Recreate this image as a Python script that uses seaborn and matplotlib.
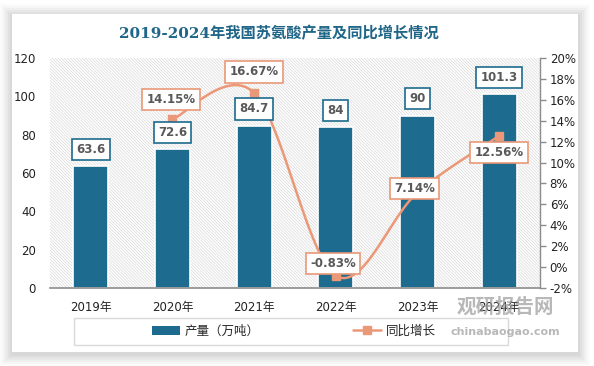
import numpy as np
import pandas as pd
import seaborn as sns
import matplotlib.pyplot as plt
from matplotlib.patches import Rectangle
from matplotlib.lines import Line2D

years = ['2019年', '2020年', '2021年', '2022年', '2023年', '2024年']
output = [63.6, 72.6, 84.7, 84, 90, 101.3]
growth = [None, 14.15, 16.67, -0.83, 7.14, 12.56]
output_labels = ['63.6', '72.6', '84.7', '84', '90', '101.3']

bar_color = '#1d6b8e'
line_color = '#ea9878'
W, H = 594, 366

sns.set_theme(style='white')
plt.rcParams['font.family'] = ['DejaVu Sans', 'Noto Sans CJK SC']
plt.rcParams['hatch.linewidth'] = 0.5

fig = plt.figure(figsize=(5.94, 3.66), dpi=100)
fig.patch.set_facecolor('white')


def fx(px):
    return px / W


def fy(py):
    return 1 - py / H


# card with soft shadow
for i, a in enumerate([0.03, 0.04, 0.05, 0.06, 0.07, 0.08]):
    d = 12 - 2 * i
    fig.patches.append(Rectangle((fx(12 - d), fy(352 + d + 2)), fx(566 + 2 * d), (338 + 2 * d) / H,
                                 transform=fig.transFigure, facecolor='#808080', alpha=a,
                                 edgecolor='none', zorder=0))
fig.patches.append(Rectangle((fx(12), fy(352)), fx(566), 338 / H, transform=fig.transFigure,
                             facecolor='white', edgecolor='none', zorder=0.5))

ax = fig.add_axes([fx(50), fy(288), fx(490), 230 / H])
ax.set_facecolor('none')
ax.add_patch(Rectangle((0, 0), 1, 1, transform=ax.transAxes, facecolor='white',
                       edgecolor='#d9d9d9', linewidth=0, hatch='\\' * 11, zorder=0))

df = pd.DataFrame({'year': years, 'output': output})
sns.barplot(data=df, x='year', y='output', ax=ax, color=bar_color, width=0.43,
            edgecolor='white', linewidth=1.2, saturation=1, zorder=2)
ax.set_ylim(0, 120)
ax.set_xlim(-0.5, 5.5)
ax.set_yticks(range(0, 121, 20))
ax.set_xlabel('')
ax.set_ylabel('')
for s in ['top', 'right', 'left']:
    ax.spines[s].set_visible(False)
ax.spines['bottom'].set_color('#8c8c8c')
ax.spines['bottom'].set_linewidth(1.2)
ax.tick_params(axis='y', length=0, labelsize=8.5, colors='#222222', pad=10)
ax.tick_params(axis='x', length=0, labelsize=8.5, colors='#222222', pad=9)

# growth line on right axis, Excel-like smoothing (Catmull-Rom through the points)
ax2 = ax.twinx()
ax2.set_ylim(-2, 20)
ax2.set_yticks(range(-2, 21, 2))
ax2.set_yticklabels([f'{t}%' for t in range(-2, 21, 2)])
pts = np.array([(i, g) for i, g in enumerate(growth) if g is not None])
ext = np.vstack([pts[0], pts, pts[-1]])
curve = []
for k in range(1, len(ext) - 2):
    p0, p1, p2, p3 = ext[k - 1], ext[k], ext[k + 1], ext[k + 2]
    for t in np.linspace(0, 1, 30):
        curve.append(0.5 * ((2 * p1) + (-p0 + p2) * t + (2 * p0 - 5 * p1 + 4 * p2 - p3) * t ** 2
                            + (-p0 + 3 * p1 - 3 * p2 + p3) * t ** 3))
curve = np.array(curve)
ax2.plot(curve[:, 0], curve[:, 1], color=line_color, linewidth=1.8, zorder=3)
ax2.scatter(pts[:, 0], pts[:, 1], marker='s', s=40, color=line_color, zorder=4)

# bar value labels (drawn on top axes so they sit above the line)
for i, (v, lab) in enumerate(zip(output, output_labels)):
    ax2.annotate(lab, (i, v), xycoords=ax.transData, xytext=(0, 12), textcoords='offset points',
                 ha='center', va='center', fontsize=8.5, fontweight='bold', color='#595959',
                 zorder=6, bbox=dict(boxstyle='square,pad=0.35', facecolor='white',
                                     edgecolor=bar_color, linewidth=1.2))

offsets = [(0, 0), (-1, 14), (0, 15), (-2, 9), (-2, 3), (0, -12)]
for i, g in enumerate(growth):
    if g is None:
        continue
    ax2.annotate(f'{g:.2f}%', (i, g), xytext=offsets[i], textcoords='offset points',
                 ha='center', va='center', fontsize=8.5, fontweight='bold', color='#595959',
                 zorder=7, bbox=dict(boxstyle='square,pad=0.35', facecolor='white',
                                     edgecolor=line_color, linewidth=1.2))

for s in ['top', 'left', 'bottom']:
    ax2.spines[s].set_visible(False)
ax2.spines['right'].set_color('#8c8c8c')
ax2.spines['right'].set_linewidth(1.0)
ax2.tick_params(axis='y', length=4, width=1, color='#8c8c8c', labelsize=8.5,
                labelcolor='#222222', pad=3, right=True)

ax.set_zorder(1)
ax2.set_zorder(2)
ax2.patch.set_visible(False)

fig.text(fx(279), fy(34), '2019-2024年我国苏氨酸产量及同比增长情况', ha='center', va='center',
         fontsize=11, fontweight='bold', color='#1f6688',
         family=['DejaVu Serif', 'Noto Sans CJK SC'])

# legend frame and entries
fig.patches.append(Rectangle((fx(74), fy(345)), fx(434), 27 / H, transform=fig.transFigure,
                             facecolor='white', edgecolor='#d9d9d9', linewidth=1.0, zorder=1))
handles = [Rectangle((0, 0), 1, 1, facecolor=bar_color, edgecolor='none'),
           Line2D([], [], color=line_color, linewidth=1.8, marker='s', markersize=6)]
fig.legend(handles, ['产量（万吨）', '同比增长'], loc='center', ncol=2,
           bbox_to_anchor=(fx(294), fy(331)), frameon=False, fontsize=9,
           handlelength=2.2, columnspacing=7.5, handletextpad=0.4)

# watermark
fig.text(fx(505), fy(307), '观研报告网', ha='center', va='center', fontsize=14,
         fontweight='bold', color='#9a9a9a', alpha=0.7, zorder=10)
fig.text(fx(505), fy(332), 'chinabaogao.com', ha='center', va='center', fontsize=8,
         fontweight='bold', color='#9a9a9a', alpha=0.7, zorder=10)

fig.savefig('out.png', dpi=100)
